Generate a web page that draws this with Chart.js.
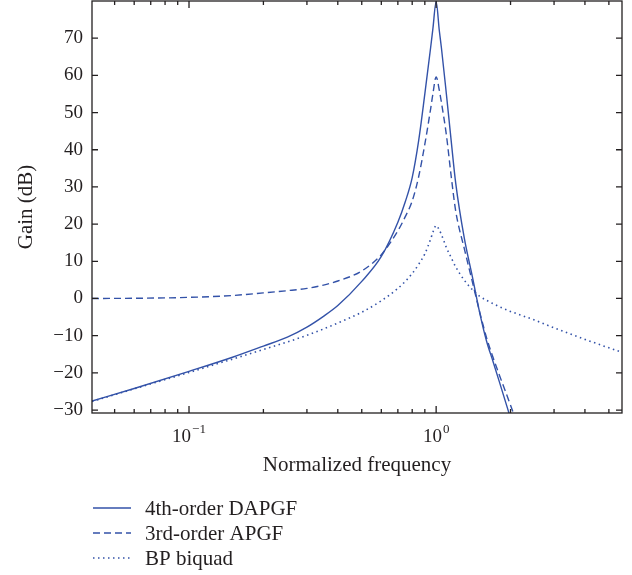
<!DOCTYPE html>
<html>
<head>
<meta charset="utf-8">
<script src="https://cdn.jsdelivr.net/npm/chart.js@4.4.1/dist/chart.umd.min.js"></script>
<style>
	body { margin: 0; background: #ffffff; }
	#wrap { width: 632px; height: 575px; }
</style>
</head>
<body>
<div id="wrap"><canvas id="gainChart" width="632" height="575"></canvas></div>
<script>
// values
const freq = [0.0405, 0.06, 0.1, 0.15, 0.2, 0.25, 0.3, 0.35, 0.4, 0.5, 0.6, 0.7, 0.75, 0.8, 0.85, 0.9, 0.95, 0.97, 1.0,
	1.03, 1.05, 1.1, 1.15, 1.2, 1.3, 1.4, 1.5, 1.6, 1.7, 1.8, 2.0, 2.1, 2.5, 3.0, 4.0, 5.65];

const dapgf4 = [-27.6, -24.2, -19.6, -15.8, -12.8, -10.4, -7.7, -4.8, -1.9, 4.6, 11.3, 20.5, 26.0, 32.5, 42.5, 55.0, 67.5, 72.5, 79.8,
	72.0, 67.5, 55.0, 42.5, 31.0, 16.2, 6.0, -3.8, -11.5, -17.0, -22.3, -32.2, null, null, null, null, null];

const apgf3 = [0.0, 0.05, 0.3, 0.8, 1.5, 2.1, 2.7, 3.6, 4.7, 7.4, 11.8, 18.2, 22.0, 26.2, 32.8, 41.5, 51.0, 55.0, 59.6,
	56.0, 52.8, 44.0, 33.0, 23.5, 13.4, 4.6, -3.6, -10.6, -15.9, -20.5, -28.7, -32.6, null, null, null, null];

const bpBiquad = [-27.7, -24.3, -19.9, -16.3, -13.7, -11.7, -9.9, -8.2, -6.6, -3.7, -0.6, 2.7, 4.6, 6.7, 9.2, 12.0, 16.0, 17.8, 19.6,
	18.4, 17.2, 13.7, 11.0, 8.5, 4.9, 2.4, 0.6, -0.5, -1.4, -2.2, -3.5, -4.0, -5.8, -7.9, -11.0, -14.5];

const seriesNames = ["4th-order DAPGF", "3rd-order APGF", "BP biquad"];

const yTicks = [-30, -20, -10, 0, 10, 20, 30, 40, 50, 60, 70];
const xMajor = [0.1, 1];
const xMajorLabels = [["10", "\u22121"], ["10", "0"]];
const xMinor = [0.05, 0.06, 0.07, 0.08, 0.09, 0.2, 0.3, 0.4, 0.5, 0.6, 0.7, 0.8, 0.9, 2, 3, 4, 5];

const blue = "#3352a8";
const ink = "#231f20";
const serif = "'Liberation Serif', 'Times New Roman', serif";

function toPoints(values) {
	return freq.map((f, i) => ({ x: f, y: values[i] }));
}

// frame with inward ticks, x tick labels with superscripts, stacked legend
const framePlugin = {
	id: "frame",
	afterDraw(chart) {
		const ctx = chart.ctx;
		const a = chart.chartArea;
		const x = chart.scales.x;
		const y = chart.scales.y;
		ctx.save();
		ctx.strokeStyle = ink;
		ctx.lineWidth = 1.3;
		ctx.setLineDash([]);
		ctx.strokeRect(a.left, a.top, a.right - a.left, a.bottom - a.top);

		ctx.beginPath();
		yTicks.forEach((v) => {
			const py = y.getPixelForValue(v);
			ctx.moveTo(a.left, py);
			ctx.lineTo(a.left + 6, py);
			ctx.moveTo(a.right, py);
			ctx.lineTo(a.right - 6, py);
		});
		xMinor.forEach((v) => {
			const px = x.getPixelForValue(v);
			ctx.moveTo(px, a.bottom);
			ctx.lineTo(px, a.bottom - 4);
			ctx.moveTo(px, a.top);
			ctx.lineTo(px, a.top + 4);
		});
		xMajor.forEach((v) => {
			const px = x.getPixelForValue(v);
			ctx.moveTo(px, a.bottom);
			ctx.lineTo(px, a.bottom - 7);
			ctx.moveTo(px, a.top);
			ctx.lineTo(px, a.top + 7);
		});
		ctx.stroke();

		// x tick labels: 10 with a raised exponent
		ctx.fillStyle = ink;
		ctx.textBaseline = "alphabetic";
		ctx.textAlign = "left";
		xMajor.forEach((v, i) => {
			const px = x.getPixelForValue(v);
			const [base, exp] = xMajorLabels[i];
			ctx.font = "19px " + serif;
			const wb = ctx.measureText(base).width;
			ctx.font = "13px " + serif;
			const we = ctx.measureText(exp).width;
			const left = px - (wb + we + 1) / 2;
			ctx.font = "19px " + serif;
			ctx.fillText(base, left, a.bottom + 29);
			ctx.font = "13px " + serif;
			ctx.fillText(exp, left + wb + 1, a.bottom + 20);
		});

		// legend, one row per series
		ctx.font = "21px " + serif;
		ctx.textBaseline = "middle";
		chart.data.datasets.forEach((ds, i) => {
			const ly = 508 + i * 25;
			ctx.strokeStyle = ds.borderColor;
			ctx.lineWidth = ds.borderWidth;
			ctx.setLineDash(ds.borderDash || []);
			ctx.beginPath();
			ctx.moveTo(93, ly);
			ctx.lineTo(131, ly);
			ctx.stroke();
			ctx.fillStyle = ink;
			ctx.fillText(ds.label, 145, ly + 1);
		});
		ctx.restore();
	},
};

new Chart(document.getElementById("gainChart").getContext("2d"), {
	type: "line",
	data: {
		datasets: [
			{
				label: seriesNames[0],
				data: toPoints(dapgf4),
				borderColor: blue,
				borderWidth: 1.4,
				borderDash: [],
				cubicInterpolationMode: "monotone",
			},
			{
				label: seriesNames[1],
				data: toPoints(apgf3),
				borderColor: blue,
				borderWidth: 1.4,
				borderDash: [7, 4],
				cubicInterpolationMode: "monotone",
			},
			{
				label: seriesNames[2],
				data: toPoints(bpBiquad),
				borderColor: blue,
				borderWidth: 1.6,
				borderDash: [1.5, 3.5],
				cubicInterpolationMode: "monotone",
			},
		],
	},
	options: {
		responsive: false,
		animation: false,
		devicePixelRatio: 1,
		layout: { padding: { left: 0, right: 10, top: 1, bottom: 97 } },
		elements: {
			point: { radius: 0, hoverRadius: 0 },
			line: { fill: false },
		},
		datasets: { line: { clip: 0 } },
		plugins: {
			legend: { display: false },
			tooltip: { enabled: false },
		},
		scales: {
			x: {
				type: "logarithmic",
				min: 0.0405,
				max: 5.65,
				grid: { display: false, drawTicks: false },
				border: { display: false },
				ticks: { display: false },
				title: {
					display: true,
					text: "Normalized frequency",
					color: ink,
					font: { family: serif, size: 21 },
					padding: { top: 0, bottom: 0 },
				},
				afterFit(scale) {
					scale.height = 65;
					scale.paddingLeft = 0;
					scale.paddingRight = 0;
				},
			},
			y: {
				type: "linear",
				min: -30.8,
				max: 80,
				grid: { display: false, drawTicks: false },
				border: { display: false },
				afterBuildTicks(scale) {
					scale.ticks = yTicks.map((v) => ({ value: v }));
				},
				ticks: {
					color: ink,
					padding: 9,
					font: { family: serif, size: 19 },
					callback: (v) => (v < 0 ? "\u2212" + Math.abs(v) : String(v)),
				},
				title: {
					display: true,
					text: "Gain (dB)",
					color: ink,
					font: { family: serif, size: 21 },
					padding: { top: 14, bottom: 0 },
				},
				afterFit(scale) {
					scale.width = 92;
					scale.paddingTop = 0;
					scale.paddingBottom = 0;
				},
			},
		},
	},
	plugins: [framePlugin],
});
</script>
</body>
</html>
